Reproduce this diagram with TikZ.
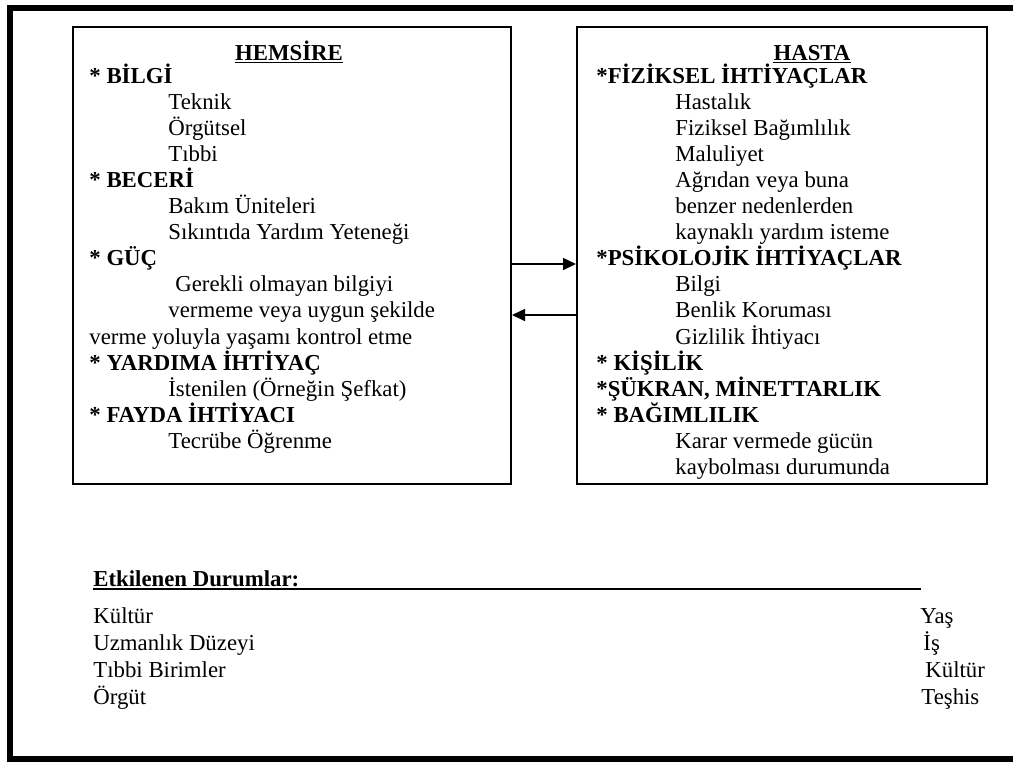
\documentclass[tikz,border=0pt]{standalone}
\usepackage{fontspec}
\setmainfont{Liberation Serif}
\usetikzlibrary{arrows.meta}
\begin{document}
\begin{tikzpicture}[x=0.5pt,y=-0.5pt,
  every node/.style={font=\fontsize{11.4pt}{13pt}\selectfont, inner sep=0pt},
  tx/.style={anchor=base west},
  hd/.style={anchor=base west, font=\fontsize{11.4pt}{13pt}\selectfont\bfseries},
  ttl/.style={anchor=base, font=\fontsize{11.4pt}{13pt}\selectfont\bfseries},
  boxst/.style={draw, line width=1pt, anchor=north west, minimum width=#1},
  uline/.style={line width=0.6pt},
  arr/.style={line width=0.8pt, -{Triangle[length=6.5pt,width=6pt]}}]
\useasboundingbox (0,0) rectangle (1013,762);
\clip (0,0) rectangle (1013,762);
\fill[white] (0,0) rectangle (1013,762);
% outer frame
\draw[line width=2.6pt] (1040,8) -- (10,8) -- (10,759) -- (1040,759);
% boxes
\node[boxst=219pt, minimum height=228.5pt] (L) at (72,26) {};
\node[boxst=205pt, minimum height=228.5pt] (R) at (576,26) {};
% arrows
\coordinate (a1) at (0,264);
\coordinate (a2) at (0,315);
\draw[arr] (L.east |- a1) -- (R.west |- a1);
\draw[arr] (R.west |- a2) -- (L.east |- a2);
% left box text
\node[ttl] (lt) at (289,60) {HEMSİRE};
\draw[uline] ([yshift=-1.1pt]lt.base west) -- ([yshift=-1.1pt]lt.base east);
\node[hd] (l0) at (89,83) {* BİLGİ};
\node[tx] (l1) at (168,109.1) {Teknik};
\node[tx] (l2) at (168,135.2) {Örgütsel};
\node[tx] (l3) at (168,161.3) {Tıbbi};
\node[hd] (l4) at (89,187.4) {* BECERİ};
\node[tx] (l5) at (168,213.5) {Bakım Üniteleri};
\node[tx] (l6) at (168,239.6) {Sıkıntıda Yardım Yeteneği};
\node[hd] (l7) at (89,265.7) {* GÜÇ};
\node[tx] (l8) at (175,291.8) {Gerekli olmayan bilgiyi};
\node[tx] (l9) at (168,317.9) {vermeme veya uygun şekilde};
\node[tx] (l10) at (89,344) {verme yoluyla yaşamı kontrol etme};
\node[hd] (l11) at (89,370.1) {* YARDIMA İHTİYAÇ};
\node[tx] (l12) at (168,396.2) {İstenilen (Örneğin Şefkat)};
\node[hd] (l13) at (89,422.3) {* FAYDA İHTİYACI};
\node[tx] (l14) at (168,448.4) {Tecrübe Öğrenme};
% right box text
\node[ttl] (rt) at (812,60) {HASTA};
\draw[uline] ([yshift=-1.1pt]rt.base west) -- ([yshift=-1.1pt]rt.base east);
\node[hd] (r0) at (596,83) {*FİZİKSEL İHTİYAÇLAR};
\node[tx] (r1) at (675,109.1) {Hastalık};
\node[tx] (r2) at (675,135.2) {Fiziksel Bağımlılık};
\node[tx] (r3) at (675,161.3) {Maluliyet};
\node[tx] (r4) at (675,187.4) {Ağrıdan veya buna};
\node[tx] (r5) at (675,213.5) {benzer nedenlerden};
\node[tx] (r6) at (675,239.6) {kaynaklı yardım isteme};
\node[hd] (r7) at (596,265.7) {*PSİKOLOJİK İHTİYAÇLAR};
\node[tx] (r8) at (675,291.8) {Bilgi};
\node[tx] (r9) at (675,317.9) {Benlik Koruması};
\node[tx] (r10) at (675,344) {Gizlilik İhtiyacı};
\node[hd] (r11) at (596,370.1) {* KİŞİLİK};
\node[hd] (r12) at (596,396.2) {*ŞÜKRAN, MİNETTARLIK};
\node[hd] (r13) at (596,422.3) {* BAĞIMLILIK};
\node[tx] (r14) at (675,448.4) {Karar vermede gücün};
\node[tx] (r15) at (675,474.5) {kaybolması durumunda};
% bottom section
\node[hd] (e0) at (93,586) {Etkilenen Durumlar:};
\coordinate (u2) at (921,589);
\draw[line width=0.7pt] ([yshift=-1.5pt]e0.base west) -- (u2);
\node[tx] (b1) at (93,623) {Kültür};
\node[tx] (b2) at (93,650) {Uzmanlık Düzeyi};
\node[tx] (b3) at (93,677) {Tıbbi Birimler};
\node[tx] (b4) at (93,704) {Örgüt};
\node[tx] (c1) at (920,623) {Yaş};
\node[tx] (c2) at (923,650) {İş};
\node[tx] (c3) at (925,677) {Kültür};
\node[tx] (c4) at (921,704) {Teşhis};
\end{tikzpicture}
\end{document}
